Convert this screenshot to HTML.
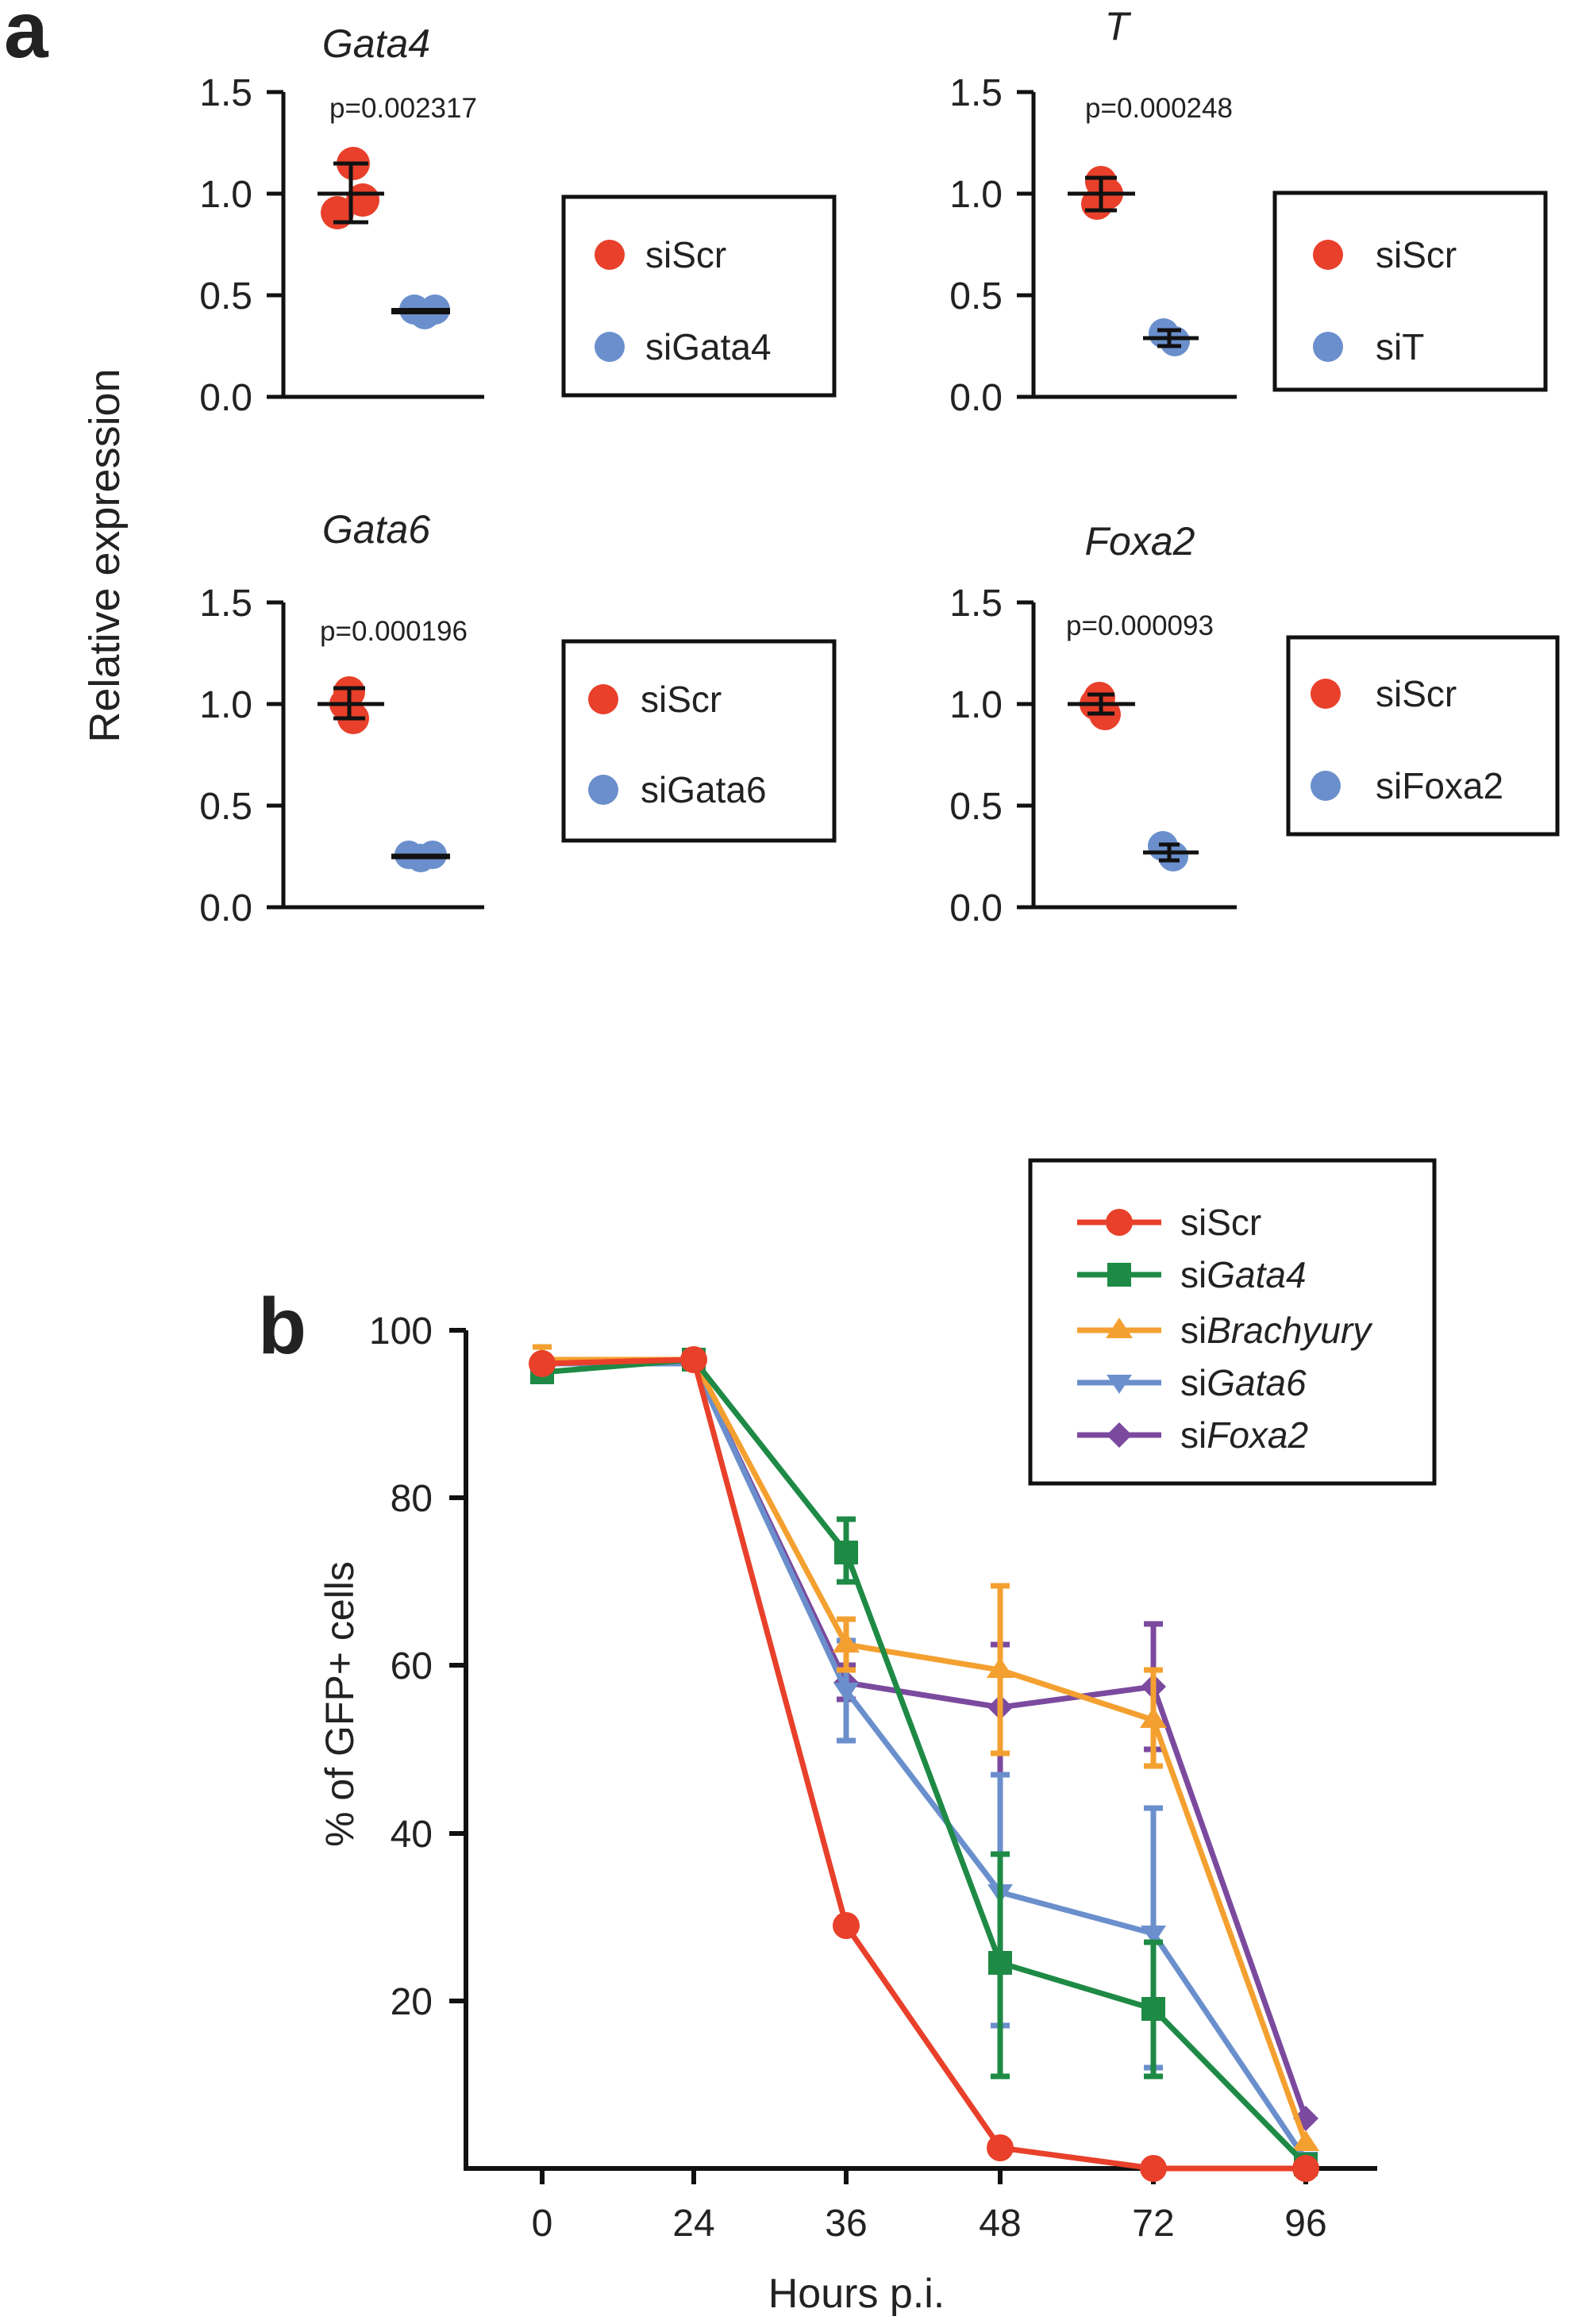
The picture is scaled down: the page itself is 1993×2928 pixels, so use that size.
<!DOCTYPE html>
<html><head><meta charset="utf-8"><style>
html,body{margin:0;padding:0;background:#fff;}
svg{display:block;}
text{font-family:"Liberation Sans",Arial,sans-serif;fill:#222;}
</style></head><body>
<svg width="1993" height="2928" viewBox="0 0 1993 2928" xmlns="http://www.w3.org/2000/svg">
<rect width="1993" height="2928" fill="#fff"/>
<text x="5" y="72" font-size="100" font-weight="bold" fill="#111">a</text>
<text x="325" y="1705" font-size="100" font-weight="bold" fill="#111">b</text>

<text transform="translate(150,700) rotate(-90)" font-size="54" text-anchor="middle">Relative expression</text>

<!-- ===== Panel a subplots ===== -->
<g stroke="#111" stroke-width="5" fill="none">
  <path d="M357,116 V500 H610"/>
  <path d="M336,116 H357 M336,244 H357 M336,372 H357 M336,500 H357"/>
  <path d="M1302,116 V500 H1558"/>
  <path d="M1281,116 H1302 M1281,244 H1302 M1281,372 H1302 M1281,500 H1302"/>
  <path d="M357,759 V1143 H610"/>
  <path d="M336,759 H357 M336,887 H357 M336,1015 H357 M336,1143 H357"/>
  <path d="M1302,759 V1143 H1558"/>
  <path d="M1281,759 H1302 M1281,887 H1302 M1281,1015 H1302 M1281,1143 H1302"/>
</g>
<g font-size="48" text-anchor="end">
  <text x="318" y="133">1.5</text><text x="318" y="261">1.0</text><text x="318" y="389">0.5</text><text x="318" y="517">0.0</text>
  <text x="1263" y="133">1.5</text><text x="1263" y="261">1.0</text><text x="1263" y="389">0.5</text><text x="1263" y="517">0.0</text>
  <text x="318" y="776">1.5</text><text x="318" y="904">1.0</text><text x="318" y="1032">0.5</text><text x="318" y="1160">0.0</text>
  <text x="1263" y="776">1.5</text><text x="1263" y="904">1.0</text><text x="1263" y="1032">0.5</text><text x="1263" y="1160">0.0</text>
</g>
<g font-size="50" font-style="italic" text-anchor="middle">
  <text x="474" y="72">Gata4</text>
  <text x="1407" y="50">T</text>
  <text x="474" y="684">Gata6</text>
  <text x="1436" y="699">Foxa2</text>
</g>
<g font-size="35" text-anchor="middle" fill="#333">
  <text x="508" y="148">p=0.002317</text>
  <text x="1460" y="148">p=0.000248</text>
  <text x="496" y="807">p=0.000196</text>
  <text x="1436" y="800">p=0.000093</text>
</g>

<g fill="#e8402a">
  <circle cx="445" cy="206" r="21"/><circle cx="425" cy="268" r="21"/><circle cx="457" cy="252" r="21"/>
  <circle cx="1387" cy="229" r="20"/><circle cx="1382" cy="257" r="20"/><circle cx="1395" cy="244" r="20"/>
  <circle cx="440" cy="872" r="20"/><circle cx="445" cy="905" r="20"/><circle cx="435" cy="887" r="20"/>
  <circle cx="1385" cy="879" r="20"/><circle cx="1392" cy="900" r="20"/><circle cx="1380" cy="887" r="20"/>
</g>
<g fill="#6a8fcc">
  <circle cx="522" cy="390" r="19"/><circle cx="535" cy="396" r="19"/><circle cx="548" cy="390" r="19"/>
  <circle cx="1466" cy="420" r="19"/><circle cx="1480" cy="430" r="19"/>
  <circle cx="515" cy="1077" r="18"/><circle cx="530" cy="1081" r="18"/><circle cx="545" cy="1077" r="18"/>
  <circle cx="1465" cy="1066" r="19"/><circle cx="1478" cy="1079" r="19"/>
</g>
<g stroke="#111" stroke-width="5" fill="none">
  <path d="M400,244 H484 M442,206 V280 M420,206 H464 M420,280 H464"/>
  <path d="M493,392 H567" stroke-width="8"/>
  <path d="M1345,244 H1430 M1387,224 V265 M1367,224 H1407 M1367,265 H1407"/>
  <path d="M1440,426 H1510 M1473,416 V436 M1458,416 H1488 M1458,436 H1488"/>
  <path d="M400,887 H484 M440,867 V905 M420,867 H460 M420,905 H460"/>
  <path d="M493,1079 H567" stroke-width="7"/>
  <path d="M1345,887 H1430 M1387,875 V899 M1370,875 H1404 M1370,899 H1404"/>
  <path d="M1440,1074 H1510 M1473,1064 V1084 M1460,1064 H1486 M1460,1084 H1486"/>
</g>

<g stroke="#111" stroke-width="5" fill="none">
  <rect x="710" y="248" width="341" height="250"/>
  <rect x="1606" y="243" width="341" height="248"/>
  <rect x="710" y="808" width="341" height="251"/>
  <rect x="1623" y="803" width="339" height="248"/>
</g>
<g>
  <circle cx="768" cy="321" r="19" fill="#e8402a"/><circle cx="768" cy="437" r="19" fill="#6a8fcc"/>
  <circle cx="1673" cy="321" r="19" fill="#e8402a"/><circle cx="1673" cy="437" r="19" fill="#6a8fcc"/>
  <circle cx="760" cy="881" r="19" fill="#e8402a"/><circle cx="760" cy="995" r="19" fill="#6a8fcc"/>
  <circle cx="1670" cy="874" r="19" fill="#e8402a"/><circle cx="1670" cy="990" r="19" fill="#6a8fcc"/>
</g>
<g font-size="46">
  <text x="813" y="337">siScr</text><text x="813" y="453">siGata4</text>
  <text x="1733" y="337">siScr</text><text x="1733" y="453">siT</text>
  <text x="807" y="897">siScr</text><text x="807" y="1011">siGata6</text>
  <text x="1733" y="890">siScr</text><text x="1733" y="1006">siFoxa2</text>
</g>

<!-- ===== Panel b ===== -->
<g stroke="#111" stroke-width="6" fill="none">
  <path d="M587,1676 V2732 H1735"/>
  <path d="M566,1676 H587 M566,1887 H587 M566,2098 H587 M566,2310 H587 M566,2521 H587"/>
  <path d="M683,2732 V2752 M874,2732 V2752 M1066,2732 V2752 M1260,2732 V2752 M1453,2732 V2752 M1645,2732 V2752"/>
</g>
<g font-size="48" text-anchor="end">
  <text x="545" y="1693">100</text><text x="545" y="1904">80</text><text x="545" y="2115">60</text><text x="545" y="2327">40</text><text x="545" y="2538">20</text>
</g>
<g font-size="48" text-anchor="middle">
  <text x="683" y="2817">0</text><text x="874" y="2817">24</text><text x="1066" y="2817">36</text><text x="1260" y="2817">48</text><text x="1453" y="2817">72</text><text x="1645" y="2817">96</text>
  <text x="1079" y="2907" font-size="52">Hours p.i.</text>
</g>
<text transform="translate(445,2147) rotate(-90)" font-size="50" text-anchor="middle">% of GFP+ cells</text>

<g stroke="#7b4a9e" stroke-width="7" fill="none">
  <path d="M1066,2098 V2141 M1054,2098 H1078 M1054,2141 H1078 M1260,2072 V2236 M1248,2072 H1272 M1248,2236 H1272 M1453,2046 V2204 M1441,2046 H1465 M1441,2204 H1465"/>
  <polyline points="683,1718 874,1718 1066,2120 1260,2151 1453,2125 1645,2669"/>
</g>
<g fill="#7b4a9e">
  <path d="M1066,2104 l16,16 -16,16 -16,-16z"/><path d="M1260,2135 l16,16 -16,16 -16,-16z"/><path d="M1453,2109 l16,16 -16,16 -16,-16z"/><path d="M1645,2653 l16,16 -16,16 -16,-16z"/>
</g>
<g stroke="#6a8fcc" stroke-width="7" fill="none">
  <path d="M1066,2067 V2193 M1054,2067 H1078 M1054,2193 H1078 M1260,2236 V2552 M1248,2236 H1272 M1248,2552 H1272 M1453,2278 V2605 M1441,2278 H1465 M1441,2605 H1465"/>
  <polyline points="683,1718 874,1718 1066,2130 1260,2384 1453,2436 1645,2721"/>
</g>
<g fill="#6a8fcc">
  <path d="M1050,2120 h32 l-16,24z"/><path d="M1244,2374 h32 l-16,24z"/><path d="M1437,2426 h32 l-16,24z"/><path d="M1629,2711 h32 l-16,24z"/>
</g>
<g stroke="#f4a030" stroke-width="7" fill="none">
  <path d="M683,1697 V1713 M671,1697 H695 M1066,2040 V2104 M1054,2040 H1078 M1054,2104 H1078 M1260,1998 V2209 M1248,1998 H1272 M1248,2209 H1272 M1453,2104 V2225 M1441,2104 H1465 M1441,2225 H1465"/>
  <polyline points="683,1713 874,1713 1066,2072 1260,2104 1453,2167 1645,2700"/>
</g>
<g fill="#f4a030">
  <path d="M683,1697 l17,26 h-34z"/><path d="M1066,2056 l17,26 h-34z"/><path d="M1260,2088 l17,26 h-34z"/><path d="M1453,2151 l17,26 h-34z"/><path d="M1645,2684 l17,26 h-34z"/>
</g>
<g stroke="#1e8a45" stroke-width="7" fill="none">
  <path d="M1066,1914 V1993 M1054,1914 H1078 M1054,1993 H1078 M1260,2336 V2616 M1248,2336 H1272 M1248,2616 H1272 M1453,2447 V2616 M1441,2447 H1465 M1441,2616 H1465"/>
  <polyline points="683,1729 874,1713 1066,1956 1260,2473 1453,2531 1645,2727"/>
</g>
<g fill="#1e8a45">
  <rect x="668" y="1714" width="30" height="30"/><rect x="859" y="1698" width="30" height="30"/><rect x="1051" y="1941" width="30" height="30"/><rect x="1245" y="2458" width="30" height="30"/><rect x="1438" y="2516" width="30" height="30"/><rect x="1630" y="2712" width="30" height="30"/>
</g>
<polyline points="683,1718 874,1713 1066,2426 1260,2706 1453,2732 1645,2732" stroke="#e8402a" stroke-width="7" fill="none"/>
<g fill="#e8402a">
  <circle cx="683" cy="1718" r="17"/><circle cx="874" cy="1713" r="17"/><circle cx="1066" cy="2426" r="17"/><circle cx="1260" cy="2706" r="17"/><circle cx="1453" cy="2732" r="17"/><circle cx="1645" cy="2732" r="17"/>
</g>

<rect x="1298" y="1462" width="509" height="407" fill="#fff" stroke="#111" stroke-width="5"/>
<g stroke-width="7">
  <line x1="1357" y1="1540" x2="1463" y2="1540" stroke="#e8402a"/>
  <line x1="1357" y1="1606" x2="1463" y2="1606" stroke="#1e8a45"/>
  <line x1="1357" y1="1676" x2="1463" y2="1676" stroke="#f4a030"/>
  <line x1="1357" y1="1742" x2="1463" y2="1742" stroke="#6a8fcc"/>
  <line x1="1357" y1="1808" x2="1463" y2="1808" stroke="#7b4a9e"/>
</g>
<circle cx="1410" cy="1540" r="17" fill="#e8402a"/>
<rect x="1395" y="1591" width="30" height="30" fill="#1e8a45"/>
<path d="M1410,1660 l17,26 h-34z" fill="#f4a030"/>
<path d="M1394,1732 h32 l-16,24z" fill="#6a8fcc"/>
<path d="M1410,1792 l16,16 -16,16 -16,-16z" fill="#7b4a9e"/>
<g font-size="46">
  <text x="1487" y="1556">siScr</text>
  <text x="1487" y="1622">si<tspan font-style="italic">Gata4</tspan></text>
  <text x="1487" y="1692">si<tspan font-style="italic">Brachyury</tspan></text>
  <text x="1487" y="1758">si<tspan font-style="italic">Gata6</tspan></text>
  <text x="1487" y="1824">si<tspan font-style="italic">Foxa2</tspan></text>
</g>
</svg>
</body></html>
